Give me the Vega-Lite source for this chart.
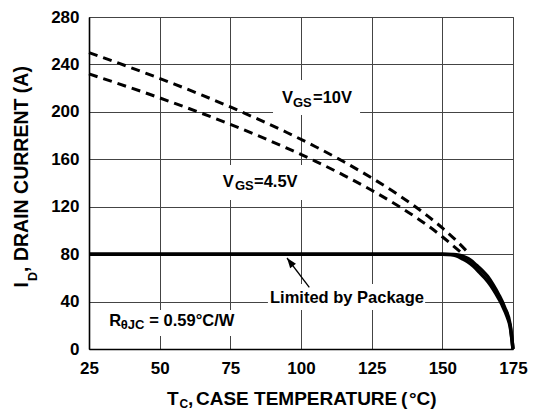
{
  "$schema": "https://vega.github.io/schema/vega-lite/v6.json",
  "width": 424,
  "height": 332,
  "autosize": "none",
  "padding": {"left": 89, "top": 17, "right": 23, "bottom": 70},
  "background": "white",
  "config": {
    "view": {"stroke": "#444", "strokeWidth": 1},
    "font": "Liberation Sans",
    "axis": {
      "grid": true, "gridColor": "#444", "gridWidth": 1, "gridOpacity": 1,
      "domainColor": "#000", "domainWidth": 1.6, "ticks": false,
      "labelFont": "Liberation Sans", "labelFontSize": 17, "labelFontWeight": "bold",
      "labelColor": "#000", "labelOverlap": false, "title": null
    }
  },
  "datasets": {
    "curves": [
      {"series": "10V", "style": "dashed", "t": 25, "i": 250},
      {"series": "10V", "style": "dashed", "t": 35, "i": 241.5},
      {"series": "10V", "style": "dashed", "t": 45, "i": 232.7},
      {"series": "10V", "style": "dashed", "t": 55, "i": 223.6},
      {"series": "10V", "style": "dashed", "t": 65, "i": 214.1},
      {"series": "10V", "style": "dashed", "t": 75, "i": 204.1},
      {"series": "10V", "style": "dashed", "t": 85, "i": 193.6},
      {"series": "10V", "style": "dashed", "t": 95, "i": 182.6},
      {"series": "10V", "style": "dashed", "t": 105, "i": 170.8},
      {"series": "10V", "style": "dashed", "t": 115, "i": 158.1},
      {"series": "10V", "style": "dashed", "t": 125, "i": 144.3},
      {"series": "10V", "style": "dashed", "t": 135, "i": 129.1},
      {"series": "10V", "style": "dashed", "t": 140, "i": 120.8},
      {"series": "10V", "style": "dashed", "t": 145, "i": 111.8},
      {"series": "10V", "style": "dashed", "t": 150, "i": 102.1},
      {"series": "10V", "style": "dashed", "t": 155, "i": 91.3},
      {"series": "10V", "style": "dashed", "t": 159, "i": 81.6},
      {"series": "4.5V", "style": "dashed", "t": 25, "i": 232},
      {"series": "4.5V", "style": "dashed", "t": 35, "i": 224.1},
      {"series": "4.5V", "style": "dashed", "t": 45, "i": 216.0},
      {"series": "4.5V", "style": "dashed", "t": 55, "i": 207.5},
      {"series": "4.5V", "style": "dashed", "t": 65, "i": 198.7},
      {"series": "4.5V", "style": "dashed", "t": 75, "i": 189.4},
      {"series": "4.5V", "style": "dashed", "t": 85, "i": 179.7},
      {"series": "4.5V", "style": "dashed", "t": 95, "i": 169.4},
      {"series": "4.5V", "style": "dashed", "t": 105, "i": 158.5},
      {"series": "4.5V", "style": "dashed", "t": 115, "i": 146.7},
      {"series": "4.5V", "style": "dashed", "t": 125, "i": 133.9},
      {"series": "4.5V", "style": "dashed", "t": 135, "i": 119.8},
      {"series": "4.5V", "style": "dashed", "t": 140, "i": 112.1},
      {"series": "4.5V", "style": "dashed", "t": 145, "i": 103.8},
      {"series": "4.5V", "style": "dashed", "t": 150, "i": 94.7},
      {"series": "4.5V", "style": "dashed", "t": 155, "i": 84.7},
      {"series": "4.5V", "style": "dashed", "t": 157.5, "i": 79.5},
      {"series": "10V lim", "style": "solid", "t": 25, "i": 80},
      {"series": "10V lim", "style": "solid", "t": 75, "i": 80},
      {"series": "10V lim", "style": "solid", "t": 125, "i": 80},
      {"series": "10V lim", "style": "solid", "t": 150, "i": 80},
      {"series": "10V lim", "style": "solid", "t": 154, "i": 79.7},
      {"series": "10V lim", "style": "solid", "t": 156, "i": 79},
      {"series": "10V lim", "style": "solid", "t": 158, "i": 77.5},
      {"series": "10V lim", "style": "solid", "t": 160, "i": 75},
      {"series": "10V lim", "style": "solid", "t": 162, "i": 70.8},
      {"series": "10V lim", "style": "solid", "t": 164, "i": 66.5},
      {"series": "10V lim", "style": "solid", "t": 166, "i": 61.2},
      {"series": "10V lim", "style": "solid", "t": 168, "i": 54},
      {"series": "10V lim", "style": "solid", "t": 170, "i": 45.6},
      {"series": "10V lim", "style": "solid", "t": 172, "i": 35.4},
      {"series": "10V lim", "style": "solid", "t": 174, "i": 20.4},
      {"series": "10V lim", "style": "solid", "t": 175, "i": 0},
      {"series": "4.5V lim", "style": "solid", "t": 25, "i": 80},
      {"series": "4.5V lim", "style": "solid", "t": 75, "i": 80},
      {"series": "4.5V lim", "style": "solid", "t": 125, "i": 80},
      {"series": "4.5V lim", "style": "solid", "t": 150, "i": 80},
      {"series": "4.5V lim", "style": "solid", "t": 153, "i": 79.6},
      {"series": "4.5V lim", "style": "solid", "t": 155, "i": 78.5},
      {"series": "4.5V lim", "style": "solid", "t": 157, "i": 76.2},
      {"series": "4.5V lim", "style": "solid", "t": 159, "i": 73.5},
      {"series": "4.5V lim", "style": "solid", "t": 161, "i": 69.8},
      {"series": "4.5V lim", "style": "solid", "t": 163, "i": 65},
      {"series": "4.5V lim", "style": "solid", "t": 165, "i": 59.9},
      {"series": "4.5V lim", "style": "solid", "t": 167, "i": 54},
      {"series": "4.5V lim", "style": "solid", "t": 169, "i": 46.5},
      {"series": "4.5V lim", "style": "solid", "t": 171, "i": 37.9},
      {"series": "4.5V lim", "style": "solid", "t": 173, "i": 26.8},
      {"series": "4.5V lim", "style": "solid", "t": 174, "i": 18.9},
      {"series": "4.5V lim", "style": "solid", "t": 175, "i": 0}
    ],
    "boxes": [
      {"box": "vgs10", "t1": 90.1, "t2": 120.9, "i1": 197.3, "i2": 226.9},
      {"box": "vgs45", "t1": 70.6, "t2": 101.8, "i1": 125.7, "i2": 155.2},
      {"box": "pkg", "t1": 88.3, "t2": 143.9, "i1": 32.9, "i2": 54.8},
      {"box": "rth", "t1": 30.7, "t2": 82.7, "i1": 10.9, "i2": 32.9}
    ],
    "arrow": [
      {"t": 102.94, "i": 52.04, "t2": 95.05, "i2": 76.75}
    ],
    "notes": [
      {"role": "main", "txt": "V", "t": 93.28, "i": 207.2},
      {"role": "sub", "txt": "GS", "t": 97.17, "i": 207.2},
      {"role": "main", "txt": "=10V", "t": 104.25, "i": 207.2},
      {"role": "main", "txt": "V", "t": 72.3, "i": 136.9},
      {"role": "sub", "txt": "GS", "t": 76.65, "i": 136.9},
      {"role": "main", "txt": "=4.5V", "t": 83.37, "i": 136.9},
      {"role": "main", "txt": "Limited by Package", "t": 89.03, "i": 38.5},
      {"role": "main", "txt": "R", "t": 32.18, "i": 19.65},
      {"role": "sub", "txt": "θJC", "t": 36.21, "i": 19.65},
      {"role": "main", "txt": "= 0.59°C/W", "t": 46.33, "i": 19.65},
      {"role": "xmain", "txt": "T", "t": 52.59, "i": -47.23},
      {"role": "xsub", "txt": "C", "t": 57.02, "i": -47.23},
      {"role": "xmain", "txt": ",", "t": 60.02, "i": -47.23},
      {"role": "xmain", "txt": "CASE TEMPERATURE", "t": 62.85, "i": -47.23},
      {"role": "xmain", "txt": "(", "t": 135.38, "i": -47.23},
      {"role": "xmain", "txt": "°C)", "t": 138.21, "i": -47.23},
      {"role": "ymain", "txt": "I", "t": 3.53, "i": 51.86},
      {"role": "ysub", "txt": "D", "t": 3.53, "i": 57.35},
      {"role": "ymain", "txt": ", DRAIN CURRENT (A)", "t": 3.53, "i": 65.02}
    ]
  },
  "encoding": {
    "x": {"field": "t", "type": "quantitative",
      "scale": {"domain": [25, 175], "nice": false, "zero": false},
      "axis": {"values": [25, 50, 75, 100, 125, 150, 175], "labelPadding": 11, "labelFlush": false}},
    "y": {"field": "i", "type": "quantitative",
      "scale": {"domain": [0, 280], "nice": false, "zero": false},
      "axis": {"values": [0, 40, 80, 120, 160, 200, 240, 280], "labelPadding": 10}}
  },
  "layer": [
    {
      "data": {"name": "boxes"},
      "mark": {"type": "rect", "fill": "white", "stroke": null},
      "encoding": {
        "x": {"field": "t1", "type": "quantitative"},
        "x2": {"field": "t2"},
        "y": {"field": "i1", "type": "quantitative"},
        "y2": {"field": "i2"}
      }
    },
    {
      "data": {"name": "curves"},
      "transform": [{"filter": "datum.style === 'dashed'"}],
      "mark": {"type": "line", "color": "#000", "strokeWidth": 3, "strokeDash": [9, 6], "interpolate": "monotone"},
      "encoding": {"detail": {"field": "series"}}
    },
    {
      "data": {"name": "curves"},
      "transform": [{"filter": "datum.style === 'solid'"}],
      "mark": {"type": "line", "color": "#000", "strokeWidth": 3.5, "interpolate": "monotone"},
      "encoding": {"detail": {"field": "series"}}
    },
    {
      "data": {"name": "arrow"},
      "mark": {"type": "rule", "color": "#000", "strokeWidth": 1.3},
      "encoding": {"x2": {"field": "t2"}, "y2": {"field": "i2"}}
    },
    {
      "data": {"name": "arrow"},
      "mark": {"type": "point", "shape": "M0,0L0.4,1.1L-0.4,1.1Z", "filled": true, "color": "#000", "opacity": 1, "size": 330, "angle": 322.7, "strokeWidth": 0},
      "encoding": {"x": {"field": "t2", "type": "quantitative"}, "y": {"field": "i2", "type": "quantitative"}}
    },
    {
      "data": {"name": "notes"},
      "transform": [{"filter": "datum.role === 'main'"}],
      "mark": {"type": "text", "align": "left", "baseline": "alphabetic", "fontSize": 16.5, "fontWeight": "bold", "color": "#000"},
      "encoding": {"text": {"field": "txt"}}
    },
    {
      "data": {"name": "notes"},
      "transform": [{"filter": "datum.role === 'sub'"}],
      "mark": {"type": "text", "align": "left", "baseline": "alphabetic", "fontSize": 13, "fontWeight": "bold", "color": "#000", "dy": 3.5},
      "encoding": {"text": {"field": "txt"}}
    },
    {
      "data": {"name": "notes"},
      "transform": [{"filter": "datum.role === 'xmain'"}],
      "mark": {"type": "text", "align": "left", "baseline": "alphabetic", "fontSize": 19, "fontWeight": "bold", "color": "#000"},
      "encoding": {"text": {"field": "txt"}}
    },
    {
      "data": {"name": "notes"},
      "transform": [{"filter": "datum.role === 'xsub'"}],
      "mark": {"type": "text", "align": "left", "baseline": "alphabetic", "fontSize": 12, "fontWeight": "bold", "color": "#000", "dy": 3.3},
      "encoding": {"text": {"field": "txt"}}
    },
    {
      "data": {"name": "notes"},
      "transform": [{"filter": "datum.role === 'ymain'"}],
      "mark": {"type": "text", "align": "left", "baseline": "alphabetic", "angle": 270, "fontSize": 19.5, "fontWeight": "bold", "color": "#000"},
      "encoding": {"text": {"field": "txt"}}
    },
    {
      "data": {"name": "notes"},
      "transform": [{"filter": "datum.role === 'ysub'"}],
      "mark": {"type": "text", "align": "left", "baseline": "alphabetic", "angle": 270, "fontSize": 12.6, "fontWeight": "bold", "color": "#000", "dy": 8.4},
      "encoding": {"text": {"field": "txt"}}
    }
  ]
}
